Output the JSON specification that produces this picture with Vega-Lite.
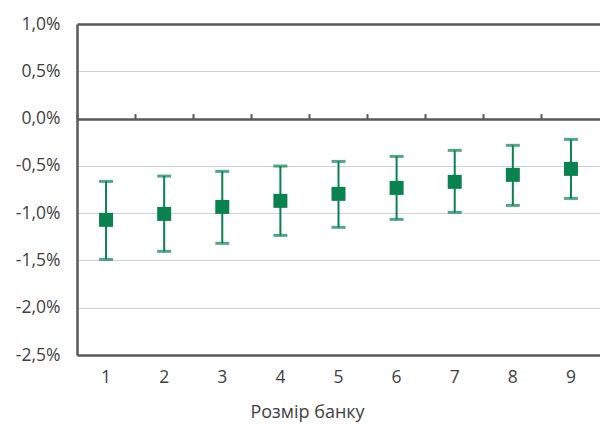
{
  "$schema": "https://vega.github.io/schema/vega-lite/v6.json",
  "autosize": "none",
  "width": 523,
  "height": 331,
  "padding": {"left": 77, "top": 24, "right": 0, "bottom": 69},
  "background": "white",
  "config": {
    "view": {"stroke": null},
    "font": "Open Sans",
    "axis": {"labelFont": "Open Sans", "titleFont": "Open Sans", "labelColor": "#3f3f3f", "titleColor": "#3f3f3f"}
  },
  "data": {"values": [
    {"size": "1", "mid": -1.071, "hi": -0.664, "lo": -1.489},
    {"size": "2", "mid": -1.008, "hi": -0.608, "lo": -1.404},
    {"size": "3", "mid": -0.934, "hi": -0.558, "lo": -1.319},
    {"size": "4", "mid": -0.870, "hi": -0.502, "lo": -1.235},
    {"size": "5", "mid": -0.796, "hi": -0.453, "lo": -1.150},
    {"size": "6", "mid": -0.733, "hi": -0.400, "lo": -1.066},
    {"size": "7", "mid": -0.669, "hi": -0.336, "lo": -0.992},
    {"size": "8", "mid": -0.595, "hi": -0.283, "lo": -0.918},
    {"size": "9", "mid": -0.532, "hi": -0.220, "lo": -0.844}
  ]},
  "resolve": {"axis": {"x": "independent", "y": "independent"}},
  "layer": [
    {
      "mark": {"type": "rule", "color": "#0a8150", "strokeWidth": 2},
      "encoding": {
        "x": {"field": "size", "type": "ordinal", "scale": {"paddingInner": 0, "paddingOuter": 0},
          "axis": {"orient": "bottom", "title": "Розмір банку", "labelAngle": 0, "ticks": false, "tickSize": 0,
            "labelPadding": 13, "labelFontSize": 17.5, "titleFontSize": 18, "titleFontWeight": "normal",
            "titlePadding": 18, "titleX": 230, "domainColor": "#595959", "domainWidth": 2.5}},
        "y": {"field": "lo", "type": "quantitative", "scale": {"domain": [-2.5, 1.0], "nice": false},
          "axis": {"title": null, "values": [-2.5, -2, -1.5, -1, -0.5, 0, 0.5, 1],
            "labelExpr": "replace(replace(format(datum.value/100, '.1%'), '.', ','), '\u2212', '-')",
            "labelFontSize": 17.5, "ticks": false, "tickSize": 0, "labelPadding": 17,
            "domainColor": "#595959", "domainWidth": 2.5,
            "grid": true,
            "gridColor": {"condition": {"test": "datum.value == 0 || datum.value == 1", "value": "#595959"}, "value": "#d0d3d4"},
            "gridWidth": {"condition": {"test": "datum.value == 0 || datum.value == 1", "value": 2.5}, "value": 1.2}}},
        "y2": {"field": "hi"}
      }
    },
    {
      "mark": {"type": "tick", "color": "#0a8150", "size": 14, "thickness": 3},
      "encoding": {
        "x": {"field": "size", "type": "ordinal",
          "axis": {"orient": "top", "offset": -94.6, "labels": false, "title": null, "domain": false,
            "ticks": true, "tickSize": 5, "tickWidth": 2, "tickColor": "#595959", "bandPosition": 0, "grid": false}},
        "y": {"field": "hi", "type": "quantitative", "axis": null}
      }
    },
    {
      "mark": {"type": "tick", "color": "#0a8150", "size": 14, "thickness": 3},
      "encoding": {
        "x": {"field": "size", "type": "ordinal", "axis": null},
        "y": {"field": "lo", "type": "quantitative", "axis": null}
      }
    },
    {
      "mark": {"type": "square", "color": "#0a8150", "filled": true, "opacity": 1, "size": 196},
      "encoding": {
        "x": {"field": "size", "type": "ordinal", "axis": null},
        "y": {"field": "mid", "type": "quantitative", "axis": null}
      }
    }
  ]
}
